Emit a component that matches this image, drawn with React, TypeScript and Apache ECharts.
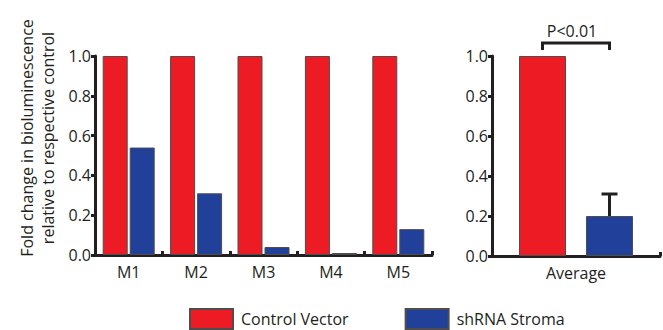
import React, { useEffect, useRef } from "react";
import * as echarts from "echarts";

const categories = ["M1", "M2", "M3", "M4", "M5"];
const controlValues = [1.0, 1.0, 1.0, 1.0, 1.0];
const shrnaValues = [0.54, 0.31, 0.04, 0.01, 0.13];
const avgCategories = ["Average"];
const avgControl = [1.0];
const avgShrna = [0.2];
const avgShrnaUpper = [0.31];
const pLabel = "P<0.01";
const seriesNames = ["Control Vector", "shRNA Stroma"];
const yTitle = ["Fold change in bioluminescence", "relative to respective control"];

const RED = "#ed1c24";
const BLUE = "#21409a";
const INK = "#231f20";
const FONT = "Open Sans";

export default function App() {
  const ref = useRef<HTMLDivElement>(null);
  useEffect(() => {
    if (!ref.current) return;
    const chart = echarts.init(ref.current, null, { renderer: "svg" });
    const yAxisCommon = {
      type: "value" as const,
      min: 0,
      max: 1,
      interval: 0.2,
      splitLine: { show: false },
      axisLine: { show: true, lineStyle: { color: INK, width: 3 } },
      axisTick: { show: true, length: 4, lineStyle: { color: INK, width: 3 } },
      axisLabel: {
        formatter: (v: number) => v.toFixed(1),
        color: INK,
        fontSize: 16,
        fontFamily: FONT,
        margin: 4,
      },
    };
    const xAxisCommon = {
      type: "category" as const,
      axisLine: { show: true, lineStyle: { color: INK, width: 3 } },
      axisTick: { show: true, inside: true, length: 4, lineStyle: { color: INK, width: 3 } },
      axisLabel: { color: INK, fontSize: 16, fontFamily: FONT, margin: 9 },
    };
    const barBorder = { borderColor: "#4d4d4d", borderWidth: 1 };
    const offset = 33.5;
    chart.setOption({
      animation: false,
      grid: [
        { left: 95, top: 56, width: 337, height: 199 },
        { left: 492, top: 56, width: 168, height: 200 },
      ],
      xAxis: [
        { ...xAxisCommon, gridIndex: 0, data: categories },
        { ...xAxisCommon, gridIndex: 1, data: avgCategories },
      ],
      yAxis: [
        { ...yAxisCommon, gridIndex: 0 },
        { ...yAxisCommon, gridIndex: 1 },
      ],
      legend: {
        left: 189,
        top: 308,
        itemWidth: 43,
        itemHeight: 20,
        itemGap: 56,
        padding: 0,
        icon: "rect",
        data: seriesNames,
        textStyle: { color: INK, fontSize: 16, fontFamily: FONT, padding: [0, 0, 0, 3] },
      },
      graphic: [
        {
          type: "text",
          x: 37,
          y: 138,
          rotation: Math.PI / 2,
          style: {
            text: yTitle.join("\n"),
            fill: INK,
            fontSize: 16,
            fontFamily: FONT,
            lineHeight: 21,
            align: "center",
            verticalAlign: "middle",
          },
        },
      ],
      series: [
        {
          name: seriesNames[0],
          type: "bar",
          xAxisIndex: 0,
          yAxisIndex: 0,
          data: controlValues,
          barWidth: 25,
          barGap: "8%",
          itemStyle: { color: RED, ...barBorder },
        },
        {
          name: seriesNames[1],
          type: "bar",
          xAxisIndex: 0,
          yAxisIndex: 0,
          data: shrnaValues,
          barWidth: 25,
          barGap: "8%",
          itemStyle: { color: BLUE, ...barBorder },
        },
        {
          name: seriesNames[0],
          type: "bar",
          xAxisIndex: 1,
          yAxisIndex: 1,
          data: avgControl,
          barWidth: 47,
          barGap: "42.5%",
          itemStyle: { color: RED, ...barBorder },
        },
        {
          name: seriesNames[1],
          type: "bar",
          xAxisIndex: 1,
          yAxisIndex: 1,
          data: avgShrna,
          barWidth: 47,
          barGap: "42.5%",
          itemStyle: { color: BLUE, ...barBorder },
        },
        {
          type: "custom",
          xAxisIndex: 1,
          yAxisIndex: 1,
          clip: false,
          z: 5,
          data: avgShrna.map((v, i) => [i, v, avgShrnaUpper[i]]),
          renderItem: (params: any, api: any) => {
            const base = api.coord([api.value(0), api.value(1)]);
            const up = api.coord([api.value(0), api.value(2)]);
            const x = base[0] + offset;
            const style = { stroke: INK, lineWidth: 3, fill: "none" };
            return {
              type: "group",
              children: [
                { type: "line", shape: { x1: x, y1: base[1], x2: x, y2: up[1] }, style },
                { type: "line", shape: { x1: x - 8, y1: up[1], x2: x + 8, y2: up[1] }, style },
              ],
            };
          },
        },
        {
          type: "custom",
          xAxisIndex: 1,
          yAxisIndex: 1,
          clip: false,
          z: 5,
          data: [[0, avgControl[0]]],
          renderItem: (params: any, api: any) => {
            const c = api.coord([api.value(0), api.value(1)]);
            const yTop = c[1] - 13;
            const yLeg = c[1] - 6;
            const x1 = c[0] - offset;
            const x2 = c[0] + offset;
            return {
              type: "group",
              children: [
                {
                  type: "polyline",
                  shape: { points: [[x1, yLeg], [x1, yTop], [x2, yTop], [x2, yLeg]] },
                  style: { stroke: INK, lineWidth: 3, fill: "none" },
                },
                {
                  type: "text",
                  x: c[0] - 4,
                  y: yTop - 12,
                  style: {
                    text: pLabel,
                    fill: INK,
                    fontSize: 16,
                    fontFamily: FONT,
                    align: "center",
                    verticalAlign: "middle",
                  },
                },
              ],
            };
          },
        },
      ],
    });
    return () => chart.dispose();
  }, []);
  return (
    <div
      ref={ref}
      style={{ position: "fixed", left: 0, top: 0, width: 663, height: 330, background: "#fff" }}
    />
  );
}
